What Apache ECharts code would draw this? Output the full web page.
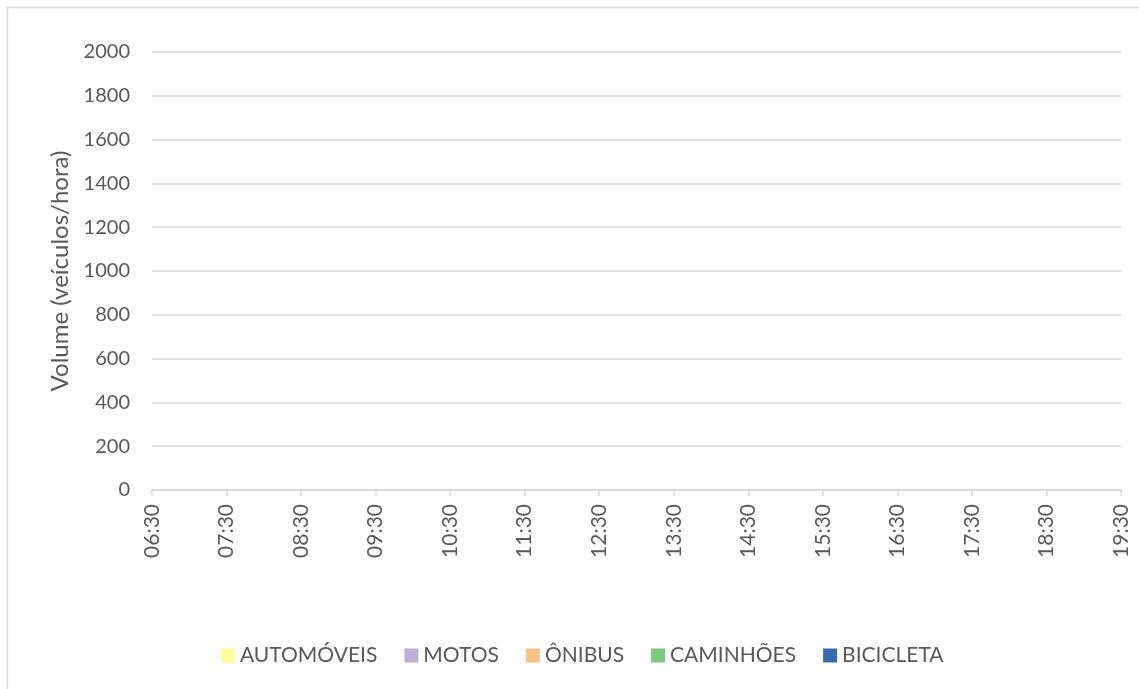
<!DOCTYPE html>
<html>
<head>
<meta charset="utf-8">
<script src="https://cdn.jsdelivr.net/npm/echarts@6/dist/echarts.min.js"></script>
<style>
html,body{margin:0;padding:0;background:#fff;}
#chart{width:1139px;height:689px;}
</style>
</head>
<body>
<div id="chart"></div>
<script>
var categories = ['06:30','07:30','08:30','09:30','10:30','11:30','12:30','13:30','14:30','15:30','16:30','17:30','18:30','19:30'];
var yTicks = [0,200,400,600,800,1000,1200,1400,1600,1800,2000];
var seriesNames = ['AUTOMÓVEIS','MOTOS','ÔNIBUS','CAMINHÕES','BICICLETA'];
var seriesColors = ['#FFFF99','#BEAED4','#FDC086','#7FC97F','#386CB0'];
var automoveis = [null,null,null,null,null,null,null,null,null,null,null,null,null,null];
var motos      = [null,null,null,null,null,null,null,null,null,null,null,null,null,null];
var onibus     = [null,null,null,null,null,null,null,null,null,null,null,null,null,null];
var caminhoes  = [null,null,null,null,null,null,null,null,null,null,null,null,null,null];
var bicicleta  = [null,null,null,null,null,null,null,null,null,null,null,null,null,null];
var values = [automoveis, motos, onibus, caminhoes, bicicleta];

var chart = echarts.init(document.getElementById('chart'));
var font = 'Lato';
chart.setOption({
  animation: false,
  color: seriesColors,
  graphic: [{
    type: 'rect',
    shape: {x: 7.5, y: 7.5, width: 1140, height: 700},
    style: {fill: 'none', stroke: '#d9d9d9', lineWidth: 1.5},
    silent: true
  }],
  grid: {left: 152, right: 18, top: 52, bottom: 199, containLabel: false},
  legend: {
    bottom: 18,
    left: 216,
    itemWidth: 14, itemHeight: 14, itemGap: 27,
    icon: 'rect',
    textStyle: {color: '#595959', fontSize: 21, fontFamily: font},
    data: seriesNames
  },
  xAxis: {
    type: 'category',
    data: categories,
    boundaryGap: false,
    axisLine: {lineStyle: {color: '#d9d9d9', width: 1.5}},
    axisTick: {show: true, length: 6, lineStyle: {color: '#d9d9d9', width: 1.5}},
    axisLabel: {rotate: 90, color: '#595959', fontSize: 21, fontFamily: font, margin: 14, interval: 0},
    splitLine: {show: false}
  },
  yAxis: {
    type: 'value',
    min: yTicks[0], max: yTicks[yTicks.length-1], interval: 200,
    name: 'Volume (veículos/hora)',
    nameLocation: 'middle',
    nameGap: 79,
    nameRotate: 90,
    nameTextStyle: {color: '#595959', fontSize: 24, fontFamily: font},
    axisLine: {show: false},
    axisTick: {show: false},
    axisLabel: {color: '#595959', fontSize: 20, fontFamily: font, margin: 22, formatter: function(v){ return String(v); }},
    splitLine: {lineStyle: {color: '#d9d9d9', width: 1.5}}
  },
  series: seriesNames.map(function(n, i){
    return {
      name: n, type: 'line', stack: 'total',
      data: values[i],
      showSymbol: false,
      lineStyle: {width: 0},
      areaStyle: {opacity: 1}
    };
  })
});
</script>
</body>
</html>
